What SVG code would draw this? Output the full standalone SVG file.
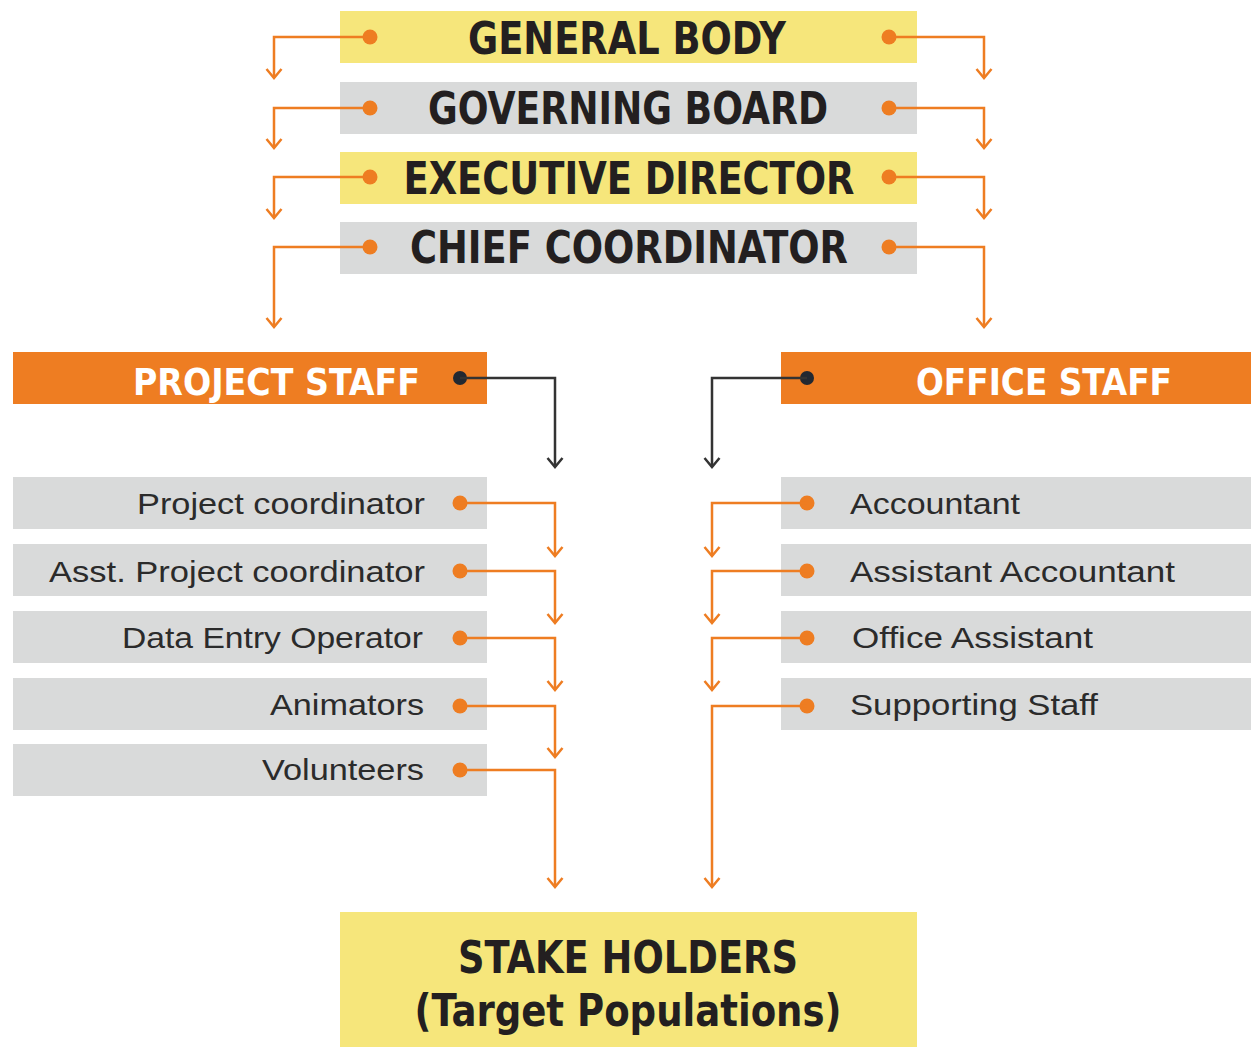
<svg xmlns="http://www.w3.org/2000/svg" width="1251" height="1047" viewBox="0 0 1251 1047">
<style>
.yl{fill:#F6E67B}
.gr{fill:#D9DADA}
.or{fill:#EE7D22}
.hd{font-family:"Liberation Sans Narrow","DejaVu Sans Condensed","Liberation Sans",sans-serif;font-weight:bold;font-size:44px;fill:#231F20;text-anchor:middle}
.st{font-family:"Liberation Sans Narrow","DejaVu Sans Condensed","Liberation Sans",sans-serif;font-weight:bold;font-size:38px;fill:#FFFFFF}
.it{font-family:"Liberation Sans","DejaVu Sans",sans-serif;font-size:30px;fill:#2B2B2B}
.ln{fill:none;stroke:#EE7D22;stroke-width:2.5}
.dk{fill:none;stroke:#333333;stroke-width:2.5}
.dot{fill:#EE7D22}
.ddot{fill:#222831}
</style>
<defs>
<marker id="ao" markerUnits="userSpaceOnUse" viewBox="-11 -10 13 20" refX="0" refY="0" markerWidth="13" markerHeight="20" orient="auto">
<path d="M-9,-7.5 L0,0 L-9,7.5" fill="none" stroke="#EE7D22" stroke-width="2.5"/>
</marker>
<marker id="ad" markerUnits="userSpaceOnUse" viewBox="-11 -10 13 20" refX="0" refY="0" markerWidth="13" markerHeight="20" orient="auto">
<path d="M-9,-7.5 L0,0 L-9,7.5" fill="none" stroke="#333333" stroke-width="2.5"/>
</marker>
</defs>
<rect width="1251" height="1047" fill="#FFFFFF"/>

<g id="general-body">
<rect class="yl" x="340" y="11" width="577" height="52"/>
<text class="hd" x="627" y="54" textLength="318" lengthAdjust="spacingAndGlyphs">GENERAL BODY</text>
<circle class="dot" cx="370" cy="37" r="7.5"/><circle class="dot" cx="889" cy="37" r="7.5"/>
</g>
<g id="governing-board">
<rect class="gr" x="340" y="82" width="577" height="52"/>
<text class="hd" x="628" y="124" textLength="400" lengthAdjust="spacingAndGlyphs">GOVERNING BOARD</text>
<circle class="dot" cx="370" cy="108" r="7.5"/><circle class="dot" cx="889" cy="108" r="7.5"/>
</g>
<g id="executive-director">
<rect class="yl" x="340" y="152" width="577" height="52"/>
<text class="hd" x="629" y="194" textLength="451" lengthAdjust="spacingAndGlyphs">EXECUTIVE DIRECTOR</text>
<circle class="dot" cx="370" cy="177" r="7.5"/><circle class="dot" cx="889" cy="177" r="7.5"/>
</g>
<g id="chief-coordinator">
<rect class="gr" x="340" y="222" width="577" height="52"/>
<text class="hd" x="629" y="263" textLength="438" lengthAdjust="spacingAndGlyphs">CHIEF COORDINATOR</text>
<circle class="dot" cx="370" cy="247" r="7.5"/><circle class="dot" cx="889" cy="247" r="7.5"/>
</g>

<g id="project-staff">
<rect class="or" x="13" y="352" width="474" height="52"/>
<text class="st" x="420" y="395" text-anchor="end" textLength="287" lengthAdjust="spacingAndGlyphs">PROJECT STAFF</text>
<circle class="ddot" cx="460" cy="378" r="7"/>
</g>
<g id="office-staff">
<rect class="or" x="781" y="352" width="470" height="52"/>
<text class="st" x="916" y="395" textLength="256" lengthAdjust="spacingAndGlyphs">OFFICE STAFF</text>
<circle class="ddot" cx="807" cy="378" r="7"/>
</g>

<g id="project-coordinator">
<rect class="gr" x="13" y="477" width="474" height="52"/>
<text class="it" x="425" y="514" text-anchor="end" textLength="288" lengthAdjust="spacingAndGlyphs">Project coordinator</text>
<circle class="dot" cx="460" cy="503" r="7.5"/>
</g>
<g id="asst-project-coordinator">
<rect class="gr" x="13" y="544" width="474" height="52"/>
<text class="it" x="425" y="582" text-anchor="end" textLength="376" lengthAdjust="spacingAndGlyphs">Asst. Project coordinator</text>
<circle class="dot" cx="460" cy="571" r="7.5"/>
</g>
<g id="data-entry-operator">
<rect class="gr" x="13" y="611" width="474" height="52"/>
<text class="it" x="423" y="648" text-anchor="end" textLength="301" lengthAdjust="spacingAndGlyphs">Data Entry Operator</text>
<circle class="dot" cx="460" cy="638" r="7.5"/>
</g>
<g id="animators">
<rect class="gr" x="13" y="678" width="474" height="52"/>
<text class="it" x="424" y="715" text-anchor="end" textLength="154" lengthAdjust="spacingAndGlyphs">Animators</text>
<circle class="dot" cx="460" cy="706" r="7.5"/>
</g>
<g id="volunteers">
<rect class="gr" x="13" y="744" width="474" height="52"/>
<text class="it" x="424" y="780" text-anchor="end" textLength="162" lengthAdjust="spacingAndGlyphs">Volunteers</text>
<circle class="dot" cx="460" cy="770" r="7.5"/>
</g>

<g id="accountant">
<rect class="gr" x="781" y="477" width="470" height="52"/>
<text class="it" x="850" y="514" textLength="170" lengthAdjust="spacingAndGlyphs">Accountant</text>
<circle class="dot" cx="807" cy="503" r="7.5"/>
</g>
<g id="assistant-accountant">
<rect class="gr" x="781" y="544" width="470" height="52"/>
<text class="it" x="850" y="582" textLength="325" lengthAdjust="spacingAndGlyphs">Assistant Accountant</text>
<circle class="dot" cx="807" cy="571" r="7.5"/>
</g>
<g id="office-assistant">
<rect class="gr" x="781" y="611" width="470" height="52"/>
<text class="it" x="852" y="648" textLength="241" lengthAdjust="spacingAndGlyphs">Office Assistant</text>
<circle class="dot" cx="807" cy="638" r="7.5"/>
</g>
<g id="supporting-staff">
<rect class="gr" x="781" y="678" width="470" height="52"/>
<text class="it" x="850" y="715" textLength="248" lengthAdjust="spacingAndGlyphs">Supporting Staff</text>
<circle class="dot" cx="807" cy="706" r="7.5"/>
</g>

<g id="stake-holders">
<rect class="yl" x="340" y="912" width="577" height="135"/>
<text class="hd" x="628" y="973" font-size="47" textLength="340" lengthAdjust="spacingAndGlyphs">STAKE HOLDERS</text>
<text class="hd" x="628" y="1026" font-size="47" textLength="427" lengthAdjust="spacingAndGlyphs">(Target Populations)</text>
</g>

<g id="connectors">
<path class="ln" d="M370,37 H274 V78" marker-end="url(#ao)"/>
<path class="ln" d="M889,37 H984 V78" marker-end="url(#ao)"/>
<path class="ln" d="M370,108 H274 V148" marker-end="url(#ao)"/>
<path class="ln" d="M889,108 H984 V148" marker-end="url(#ao)"/>
<path class="ln" d="M370,177 H274 V218" marker-end="url(#ao)"/>
<path class="ln" d="M889,177 H984 V218" marker-end="url(#ao)"/>
<path class="ln" d="M370,247 H274 V327" marker-end="url(#ao)"/>
<path class="ln" d="M889,247 H984 V327" marker-end="url(#ao)"/>
<path class="dk" d="M460,378 H555 V467" marker-end="url(#ad)"/>
<path class="dk" d="M807,378 H712 V467" marker-end="url(#ad)"/>
<path class="ln" d="M460,503 H555 V556" marker-end="url(#ao)"/>
<path class="ln" d="M460,571 H555 V623" marker-end="url(#ao)"/>
<path class="ln" d="M460,638 H555 V690" marker-end="url(#ao)"/>
<path class="ln" d="M460,706 H555 V757" marker-end="url(#ao)"/>
<path class="ln" d="M460,770 H555 V887" marker-end="url(#ao)"/>
<path class="ln" d="M807,503 H712 V556" marker-end="url(#ao)"/>
<path class="ln" d="M807,571 H712 V623" marker-end="url(#ao)"/>
<path class="ln" d="M807,638 H712 V690" marker-end="url(#ao)"/>
<path class="ln" d="M807,706 H712 V887" marker-end="url(#ao)"/>
</g>
</svg>
